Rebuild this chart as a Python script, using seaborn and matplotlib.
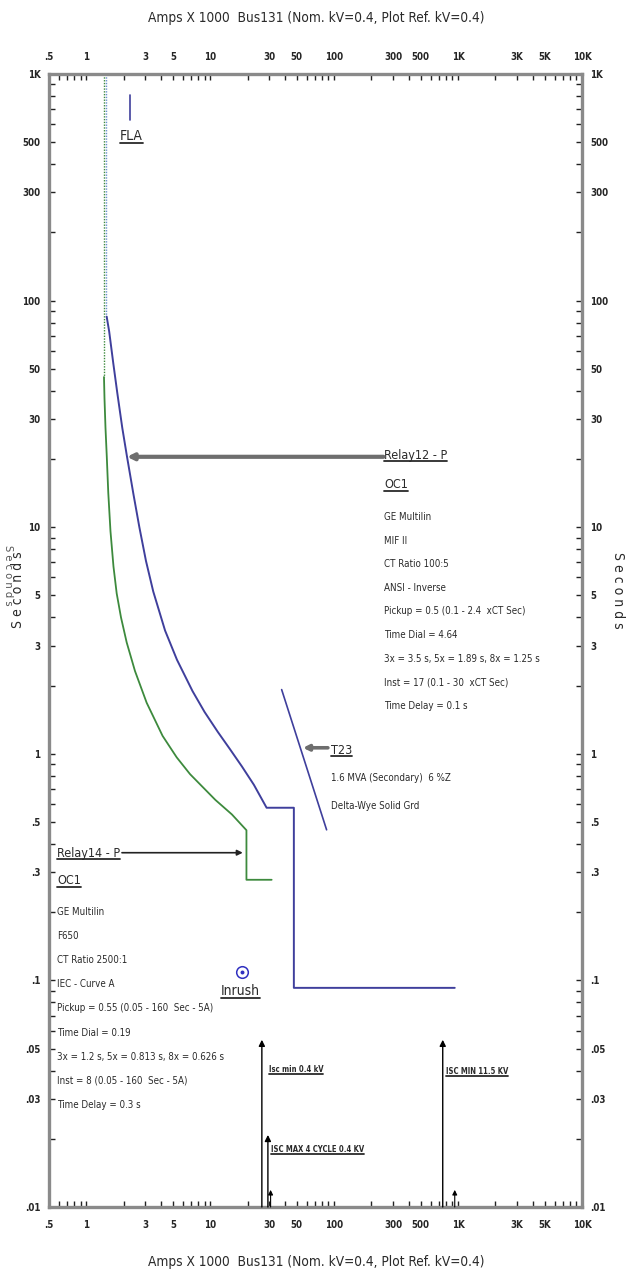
import numpy as np
import pandas as pd
import matplotlib
matplotlib.use("Agg")
import matplotlib.pyplot as plt
import seaborn as sns
from matplotlib import font_manager
from matplotlib.lines import Line2D
from matplotlib.ticker import FixedLocator, NullFormatter

# ---------------- data (Amps x 1000 / seconds) ----------------
relay12_amps = [1.46, 1.53, 1.65, 1.78, 1.95, 2.12, 2.40, 2.68, 3.03, 3.47,
                4.32, 5.39, 7.2, 9.0, 11.5, 14.4, 18.0, 22.5, 28.5, 47.3, 47.3, 940]
relay12_secs = [85.0, 73.0, 53.0, 39.0, 27.5, 20.8, 14.0, 10.0, 7.1, 5.2,
                3.5, 2.6, 1.89, 1.53, 1.25, 1.05, 0.88, 0.73, 0.578, 0.578, 0.0927, 0.0927]
relay12_pickup_amps = [1.45, 1.45]
relay12_pickup_secs = [1000, 85.0]

relay14_amps = [1.389, 1.402, 1.428, 1.463, 1.504, 1.567, 1.657, 1.759, 1.905, 2.118,
                2.470, 3.069, 4.125, 5.36, 6.875, 11.0, 14.96, 19.6, 19.6, 31.3]
relay14_secs = [46.0, 37.0, 27.5, 20.5, 14.2, 9.6, 6.7, 5.1, 4.0, 3.1,
                2.32, 1.68, 1.2, 0.965, 0.813, 0.626, 0.54, 0.46, 0.278, 0.278]
relay14_pickup_amps = [1.38, 1.38]
relay14_pickup_secs = [1000, 46.0]

t23_amps = [37.7, 86.9]
t23_secs = [1.92, 0.462]

fla_amps = [2.26, 2.26]
fla_secs = [628, 809]

inrush_amps = [17.9]
inrush_secs = [0.109]

isc_amps = [26.1, 29.2, 752]
isc_tip_secs = [0.0547, 0.0208, 0.0547]
isc_labels = ["Isc min 0.4 kV", "ISC MAX 4 CYCLE 0.4 KV", "ISC MIN 11.5 KV"]
small_arrow_amps = [30.7, 940]
small_arrow_secs = [0.0119, 0.0119]

x_tick_vals = [0.5, 1, 3, 5, 10, 30, 50, 100, 300, 500, 1000, 3000, 5000, 10000]
x_tick_labels = [".5", "1", "3", "5", "10", "30", "50", "100", "300", "500", "1K", "3K", "5K", "10K"]
y_tick_vals = [0.01, 0.03, 0.05, 0.1, 0.3, 0.5, 1, 3, 5, 10, 30, 50, 100, 300, 500, 1000]
y_tick_labels = [".01", ".03", ".05", ".1", ".3", ".5", "1", "3", "5", "10", "30", "50", "100", "300", "500", "1K"]

relay12_text = ["GE Multilin", "MIF II", "CT Ratio 100:5", "ANSI - Inverse",
                "Pickup = 0.5 (0.1 - 2.4  xCT Sec)", "Time Dial = 4.64",
                "3x = 3.5 s, 5x = 1.89 s, 8x = 1.25 s", "Inst = 17 (0.1 - 30  xCT Sec)",
                "Time Delay = 0.1 s"]
relay14_text = ["GE Multilin", "F650", "CT Ratio 2500:1", "IEC - Curve A",
                "Pickup = 0.55 (0.05 - 160  Sec - 5A)", "Time Dial = 0.19",
                "3x = 1.2 s, 5x = 0.813 s, 8x = 0.626 s", "Inst = 8 (0.05 - 160  Sec - 5A)",
                "Time Delay = 0.3 s"]
t23_text = ["1.6 MVA (Secondary)  6 %Z", "Delta-Wye Solid Grd"]
axis_title = "Amps X 1000  Bus131 (Nom. kV=0.4, Plot Ref. kV=0.4)"

# ---------------- style ----------------
sns.set_theme(style="white")
flist = font_manager.fontManager.ttflist
names = {f.name for f in flist}
STRETCH = "normal"
if "Liberation Sans Narrow" in names:
    FAM = ["Liberation Sans Narrow", "DejaVu Sans"]
elif any(f.name == "DejaVu Sans" and f.stretch == "condensed" for f in flist):
    FAM = ["DejaVu Sans"]
    STRETCH = "condensed"
else:
    FAM = ["Liberation Sans", "DejaVu Sans"]
plt.rcParams["font.family"] = FAM
plt.rcParams["font.stretch"] = STRETCH

BLUE = "#3f3f9c"
GREEN = "#3d8a3d"
TXT = "#2a2a2a"

W, H = 632, 1285
fig = plt.figure(figsize=(W / 100, H / 100), dpi=100)
fig.patch.set_facecolor("white")
L, R, T, B = 49, 582, 74, 1207
ax = fig.add_axes([L / W, 1 - B / H, (R - L) / W, (B - T) / H])
ax.set_facecolor("white")
ax.set_xscale("log")
ax.set_yscale("log")
ax.set_xlim(0.5, 10000)
ax.set_ylim(0.01, 1000)


def line(xs, ys, color, lw=1.3, ls="-"):
    df = pd.DataFrame({"amps": xs, "secs": ys})
    sns.lineplot(data=df, x="amps", y="secs", sort=False, estimator=None,
                 color=color, lw=lw, linestyle=ls, ax=ax, legend=False)


line(relay14_pickup_amps, relay14_pickup_secs, GREEN, lw=1.0, ls=(0, (1, 1)))
line(relay12_pickup_amps, relay12_pickup_secs, "#6a8fd0", lw=1.0, ls=(0, (1, 1)))
line(relay14_amps, relay14_secs, GREEN, lw=1.3)
line(relay12_amps, relay12_secs, BLUE, lw=1.4)
line(t23_amps, t23_secs, BLUE, lw=1.2)
line(fla_amps, fla_secs, BLUE, lw=1.2)

sns.scatterplot(x=inrush_amps, y=inrush_secs, s=70, facecolor="white",
                edgecolor="#3030c0", linewidth=1.1, ax=ax, legend=False, zorder=5)
sns.scatterplot(x=inrush_amps, y=inrush_secs, s=8, color="#3030c0",
                linewidth=0, ax=ax, legend=False, zorder=6)

# short-circuit arrows
for xa, ya in zip(isc_amps, isc_tip_secs):
    ax.annotate("", xy=(xa, ya), xytext=(xa, 0.01),
                arrowprops=dict(arrowstyle="-|>", color="black", lw=1.0,
                                mutation_scale=9, shrinkA=0, shrinkB=0))
for xa, ya in zip(small_arrow_amps, small_arrow_secs):
    ax.annotate("", xy=(xa, ya), xytext=(xa, 0.01),
                arrowprops=dict(arrowstyle="-|>", color="black", lw=0.8,
                                mutation_scale=7, shrinkA=0, shrinkB=0))

# ---------------- axes / ticks ----------------
for sp in ax.spines.values():
    sp.set_color("#8a8a8a")
    sp.set_linewidth(2.4)

minor_x = [m * 10.0 ** e for e in range(-1, 5) for m in range(1, 10)
           if 0.5 <= m * 10.0 ** e <= 10000]
minor_y = [m * 10.0 ** e for e in range(-2, 4) for m in range(1, 10)
           if 0.01 <= m * 10.0 ** e <= 1000]
ax.xaxis.set_major_locator(FixedLocator(x_tick_vals))
ax.xaxis.set_minor_locator(FixedLocator(minor_x))
ax.yaxis.set_major_locator(FixedLocator(y_tick_vals))
ax.yaxis.set_minor_locator(FixedLocator(minor_y))
ax.set_xticklabels(x_tick_labels)
ax.set_yticklabels(y_tick_labels)
ax.xaxis.set_minor_formatter(NullFormatter())
ax.yaxis.set_minor_formatter(NullFormatter())
ax.tick_params(axis="both", which="both", direction="in", length=4, width=1.0,
               color="#222222", top=True, bottom=True, left=True, right=True,
               labeltop=True, labelbottom=True, labelleft=True, labelright=True)
ax.tick_params(axis="x", which="major", pad=9, labelsize=7)
ax.tick_params(axis="y", which="major", pad=6, labelsize=7)
for lab in ax.get_xticklabels() + ax.get_yticklabels():
    lab.set_fontweight("bold")
ax.set_xlabel("")
ax.set_ylabel("")


def fx(px):
    return (px - L) / (R - L)


def fy(py):
    return (B - py) / (B - T)


underline = []


def txt(px, py, s, size=7.0, ul=False, color=TXT, weight="normal", lw=1.0):
    t = ax.text(fx(px), fy(py), s, transform=ax.transAxes, fontsize=size,
                color=color, ha="left", va="center", fontweight=weight,
                clip_on=False)
    if ul:
        underline.append((t, lw))
    return t


# Relay12 block
x12, y12 = 384, 455
txt(x12, y12, "Relay12 - P", size=9, ul=True)
txt(x12, y12 + 30, "OC1", size=9, ul=True)
for i, s in enumerate(relay12_text):
    txt(x12, y12 + 62 + 23.6 * i, s, size=7)
ax.annotate("", xy=(2.13, 20.45), xytext=(250, 20.45),
            arrowprops=dict(arrowstyle="-|>", color="#6e6e6e", lw=3.0,
                            mutation_scale=9, shrinkA=0, shrinkB=0))

# Relay14 block
x14, y14 = 57, 853
txt(x14, y14, "Relay14 - P", size=9, ul=True)
txt(x14, y14 + 28, "OC1", size=9, ul=True)
for i, s in enumerate(relay14_text):
    txt(x14, y14 + 59 + 24.1 * i, s, size=7)
ax.annotate("", xy=(18.3, 0.366), xytext=(1.94, 0.366),
            arrowprops=dict(arrowstyle="-|>", color="#222222", lw=1.2,
                            mutation_scale=8, shrinkA=0, shrinkB=0))

# T23 block
txt(331, 750, "T23", size=9, ul=True)
txt(331, 778, t23_text[0], size=7)
txt(331, 806, t23_text[1], size=7)
ax.annotate("", xy=(56, 1.063), xytext=(89, 1.063),
            arrowprops=dict(arrowstyle="-|>", color="#6e6e6e", lw=2.6,
                            mutation_scale=8, shrinkA=0, shrinkB=0))

# FLA / Inrush
txt(120, 136, "FLA", size=10, ul=True)
txt(221, 991, "Inrush", size=10, ul=True)

# ISC labels
txt(269, 1070, isc_labels[0], size=5.5, ul=True, weight="bold")
txt(271, 1150, isc_labels[1], size=5.5, ul=True, weight="bold")
txt(446, 1072, isc_labels[2], size=5.5, ul=True, weight="bold")

# axis titles
fig.text(0.5, 1 - 18 / H, axis_title, ha="center", va="center", fontsize=9.8, color=TXT)
fig.text(0.5, 1 - 1262 / H, axis_title, ha="center", va="center", fontsize=9.8, color=TXT)
fig.text(18 / W, 1 - 590 / H, "S e c o n d s", rotation=90, ha="center", va="center",
         fontsize=10, color=TXT)
fig.text(618 / W, 1 - 590 / H, "S e c o n d s", rotation=270, ha="center", va="center",
         fontsize=10, color=TXT)
fig.text(7.5 / W, 1 - 575 / H, "S e c o n d s", rotation=270, ha="center", va="center",
         fontsize=8, color="#555555")

# underlines
fig.canvas.draw()
rend = fig.canvas.get_renderer()
for t, lw in underline:
    bb = t.get_window_extent(rend)
    yline = bb.y0 + 0.5
    fig.add_artist(Line2D([bb.x0 / W, bb.x1 / W], [yline / H, yline / H],
                          transform=fig.transFigure, color=TXT, lw=lw * 1.3))

fig.savefig("out.png", dpi=100, facecolor="white")
